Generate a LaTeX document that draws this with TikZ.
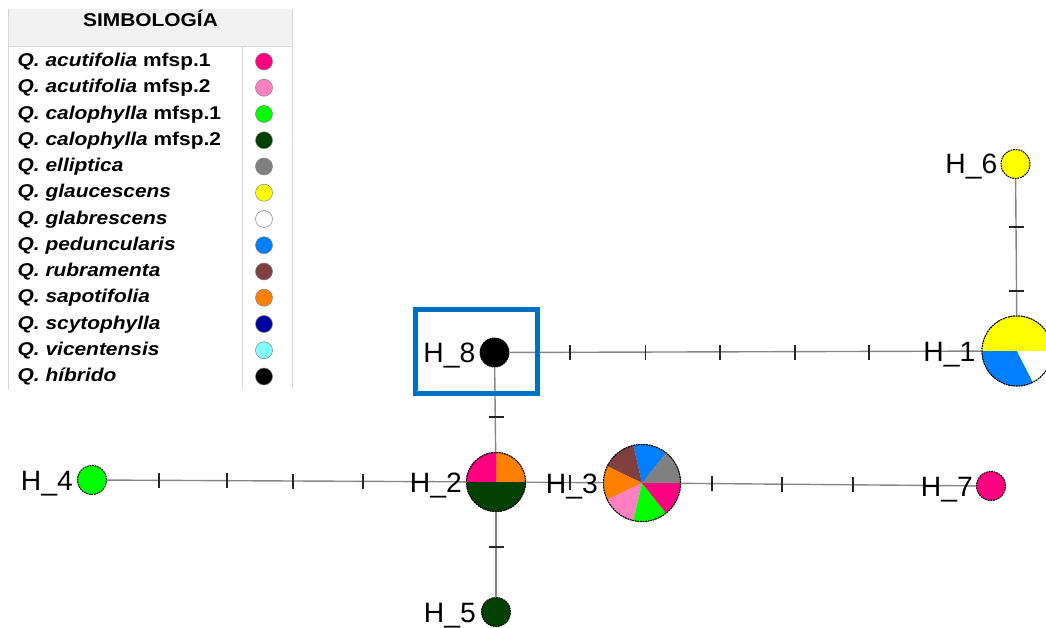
\documentclass[tikz,border=0pt]{standalone}
\usepackage{fontspec}
\setmainfont{Liberation Sans}
\newfontfamily\legfont[FakeStretch=1.13]{Liberation Sans}
\newfontfamily\hapfont[FakeStretch=1.01]{Liberation Sans}
\usetikzlibrary{calc,backgrounds}

% species colours
\definecolor{cAcuA}{RGB}{255,0,128}
\definecolor{cAcuB}{RGB}{255,128,192}
\definecolor{cCalA}{RGB}{0,255,0}
\definecolor{cCalB}{RGB}{0,64,0}
\definecolor{cEll}{RGB}{128,128,128}
\definecolor{cGlau}{RGB}{255,255,0}
\definecolor{cGlab}{RGB}{255,255,255}
\definecolor{cPed}{RGB}{0,128,255}
\definecolor{cRub}{RGB}{128,64,64}
\definecolor{cSap}{RGB}{255,128,0}
\definecolor{cScy}{RGB}{0,0,160}
\definecolor{cVic}{RGB}{128,255,255}
\definecolor{cHib}{RGB}{0,0,0}
\definecolor{edgegray}{RGB}{135,135,135}
\definecolor{legline}{RGB}{215,215,215}
\definecolor{legfill}{RGB}{242,242,242}
\definecolor{selblue}{RGB}{0,112,192}

\newcommand\legrow[4]{%
  \node[legtxt] (t#1) at (17.5,{-66.6-26.25*#1}) {#3};
  \node[legdot, fill=#4] (d#2) at (264,{-61.5-26.25*#1}) {};}
\newcommand\piewedge[5]{% centre, radius, start, end, colour
  \fill[#5] (#1) -- ++(#3:#2) arc[start angle=#3, end angle=#4, radius=#2] -- cycle;}

\begin{document}
\begin{tikzpicture}[x=1pt,y=1pt,
  legtxt/.style={anchor=base west, inner sep=0pt,
    font=\legfont\fontsize{18.5}{20}\selectfont\bfseries},
  legdot/.style={circle, draw=gray, line width=0.5pt, minimum size=17pt, inner sep=0pt},
  hap/.style={circle, inner sep=0pt, draw=black, line width=1pt,
    dash pattern=on 1.8pt off 0.8pt},
  hlab/.style={font=\hapfont\fontsize{28}{30}\selectfont, anchor=base east, inner sep=0pt},
  edge/.style={draw=edgegray, line width=1.4pt},
  tickmark/.style={draw=black!85, line width=1.4pt},
  ring/.style={draw=black, line width=1pt, dash pattern=on 1.8pt off 0.8pt}]
\useasboundingbox (0,0) rectangle (1046,-628);
\clip (0,0) rectangle (1046,-628);

% ---------------- legend table ----------------
\fill[legfill] (8,-9) rectangle (292,-47);
\draw[legline, line width=1pt] (8,-9) -- (8,-389) (292,-9) -- (292,-389)
  (8,-47) -- (292,-47) (242,-47) -- (242,-389);
\node[font=\legfont\fontsize{18.5}{20}\selectfont\bfseries, anchor=base, inner sep=0pt]
  (title) at (150.5,-26.6) {SIMBOLOGÍA};
\legrow{0}{acuA}{\itshape Q. acutifolia\upshape{} mfsp.1}{cAcuA}
\legrow{1}{acuB}{\itshape Q. acutifolia\upshape{} mfsp.2}{cAcuB}
\legrow{2}{calA}{\itshape Q. calophylla\upshape{} mfsp.1}{cCalA}
\legrow{3}{calB}{\itshape Q. calophylla\upshape{} mfsp.2}{cCalB}
\legrow{4}{ell}{\itshape Q. elliptica}{cEll}
\legrow{5}{glau}{\itshape Q. glaucescens}{cGlau}
\legrow{6}{glab}{\itshape Q. glabrescens}{cGlab}
\legrow{7}{ped}{\itshape Q. peduncularis}{cPed}
\legrow{8}{rub}{\itshape Q. rubramenta}{cRub}
\legrow{9}{sap}{\itshape Q. sapotifolia}{cSap}
\legrow{10}{scy}{\itshape Q. scytophylla}{cScy}
\legrow{11}{vic}{\itshape Q. vicentensis}{cVic}
\legrow{12}{hib}{\itshape Q. híbrido}{cHib}

% ---------------- haplotype network ----------------
\node[hap, minimum size=70pt] (h1) at (1017,-351) {};
\node[hap, minimum size=59pt] (h2) at (496,-482) {};
\node[hap, minimum size=77pt] (h3) at (642,-483) {};
\node[hap, minimum size=29pt, fill=cCalA] (h4) at (92,-480) {};
\node[hap, minimum size=29pt, fill=cCalB] (h5) at (496,-612) {};
\node[hap, minimum size=29pt, fill=cGlau] (h6) at (1015.5,-164) {};
\node[hap, minimum size=29pt, fill=cAcuA] (h7) at (991,-486) {};
\node[hap, minimum size=29pt, fill=cHib] (h8) at (494.5,-352.5) {};

% pie charts
\piewedge{h1.center}{35}{0}{180}{cGlau}
\piewedge{h1.center}{35}{180}{297}{cPed}
\piewedge{h1.center}{35}{297}{360}{cGlab}
\draw[ring] (h1.center) circle[radius=35];

\piewedge{h2.center}{29.5}{0}{90}{cSap}
\piewedge{h2.center}{29.5}{90}{180}{cAcuA}
\piewedge{h2.center}{29.5}{180}{360}{cCalB}
\draw[ring] (h2.center) circle[radius=29.5];

\piewedge{h3.center}{38.5}{0}{51.43}{cEll}
\piewedge{h3.center}{38.5}{51.43}{102.86}{cPed}
\piewedge{h3.center}{38.5}{102.86}{154.29}{cRub}
\piewedge{h3.center}{38.5}{154.29}{205.71}{cSap}
\piewedge{h3.center}{38.5}{205.71}{257.14}{cAcuB}
\piewedge{h3.center}{38.5}{257.14}{308.57}{cCalA}
\piewedge{h3.center}{38.5}{308.57}{360}{cAcuA}
\draw[ring] (h3.center) circle[radius=38.5];

% connectors and mutation ticks
\begin{pgfonlayer}{background}
  \draw[edge] (h8) -- (h1);
  \draw[edge] (h6) -- (h1);
  \draw[edge] (h8) -- (h2);
  \draw[edge] (h4) -- (h2);
  \draw[edge] (h2) -- (h3);
  \draw[edge] (h3) -- (h7);
  \draw[edge] (h2) -- (h5);
  \foreach \x in {570,645.5,720,795,869}
    \draw[tickmark] (\x,-345) -- (\x,-360);
  \foreach \y in {227,291}
    \draw[tickmark] (1008.5,-\y) -- (1023.5,-\y);
  \draw[tickmark] (488.5,-417) -- (503.5,-417);
  \draw[tickmark] (488.5,-547) -- (503.5,-547);
  \foreach \x/\y in {159/480.3,227/480.7,293/481,363/481.4}
    \draw[tickmark] (\x,-\y+7.5) -- (\x,-\y-7.5);
  \draw[tickmark] (570,-475) -- (570,-490);
  \foreach \x/\y in {712/483.6,782/484.2,853/484.8}
    \draw[tickmark] (\x,-\y+7.5) -- (\x,-\y-7.5);
\end{pgfonlayer}

% haplotype labels
\node[hlab] (l1) at ([xshift=-6pt,yshift=-10pt]h1.west) {H\_1};
\node[hlab] (l2) at ([xshift=-4pt,yshift=-10pt]h2.west) {H\_2};
\node[hlab] (l3) at ([xshift=-5pt,yshift=-10pt]h3.west) {H\_3};
\node[hlab] (l4) at ([xshift=-4pt,yshift=-10pt]h4.west) {H\_4};
\node[hlab] (l5) at ([xshift=-5pt,yshift=-10pt]h5.west) {H\_5};
\node[hlab] (l6) at ([xshift=-3pt,yshift=-10pt]h6.west) {H\_6};
\node[hlab] (l7) at ([xshift=-3pt,yshift=-10pt]h7.west) {H\_7};
\node[hlab] (l8) at ([xshift=-4pt,yshift=-10pt]h8.west) {H\_8};

% highlight frame round H_8
\node[draw=selblue, line width=5pt, minimum width=122.5pt, minimum height=84pt,
  inner sep=0pt] (sel) at (476.25,-351) {};
\end{tikzpicture}
\end{document}
